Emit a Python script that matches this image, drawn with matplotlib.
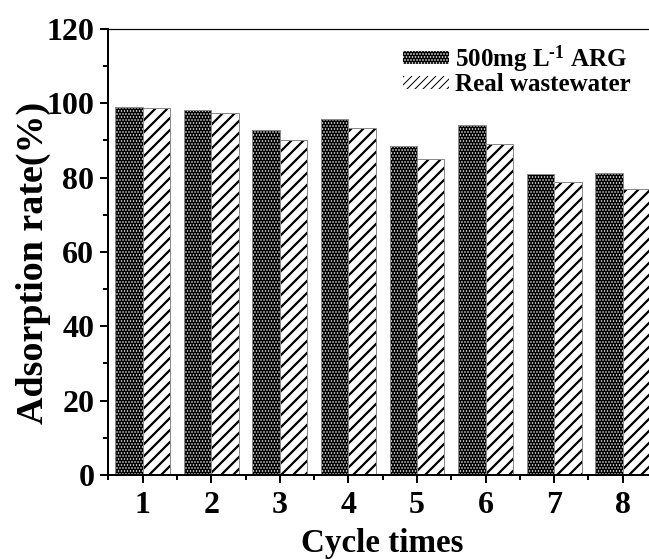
import numpy as np
import matplotlib
matplotlib.use("Agg")
import matplotlib.pyplot as plt
from matplotlib.patches import Patch
from matplotlib.ticker import MultipleLocator

# valori procitani sa slike
cycles = [1, 2, 3, 4, 5, 6, 7, 8]
arg_500 = [99.0, 98.2, 92.8, 95.9, 88.6, 94.2, 81.1, 81.2]
real_ww = [98.8, 97.5, 90.1, 93.4, 85.1, 89.1, 78.9, 76.9]
labels = ["500mg L$^{\\text{-1}}$ ARG", "Real wastewater"]

plt.rcParams['font.family'] = ['Liberation Serif', 'DejaVu Serif']
plt.rcParams['font.weight'] = 'bold'
plt.rcParams['mathtext.fontset'] = 'custom'
plt.rcParams['mathtext.rm'] = 'Liberation Serif:bold'
plt.rcParams['mathtext.bf'] = 'Liberation Serif:bold'
plt.rcParams['mathtext.default'] = 'bf'

DPI = 72
fig = plt.figure(figsize=(649 / DPI, 559 / DPI), dpi=DPI)
ax = fig.add_axes([0.1669, 0.1503, 0.8455, 0.7979])

x = np.array(cycles)
w = 0.4
edge = "#8a8a8a"


def set_hlw(bars, lw):
    for b in bars:
        try:
            b.set_hatch_linewidth(lw)
        except AttributeError:
            pass


# tamni stubovi sa belim tackama
with plt.rc_context({'hatch.linewidth': 0.9}):
    b1 = ax.bar(x - w / 2, arg_500, w, color="black", edgecolor="white",
                hatch="....", linewidth=0)
set_hlw(b1, 0.9)
ax.bar(x - w / 2, arg_500, w, fill=False, edgecolor=edge, linewidth=1)

# srafirani stubovi
with plt.rc_context({'hatch.linewidth': 2.2}):
    b2 = ax.bar(x + w / 2, real_ww, w, color="white", edgecolor="black",
                hatch="//", linewidth=0)
set_hlw(b2, 2.2)
ax.bar(x + w / 2, real_ww, w, fill=False, edgecolor=edge, linewidth=1)

ax.set_xlim(0.5, 8.5)
ax.set_ylim(0, 120)
ax.xaxis.set_major_locator(MultipleLocator(1))
ax.xaxis.set_minor_locator(MultipleLocator(0.5))
ax.yaxis.set_major_locator(MultipleLocator(20))
ax.yaxis.set_minor_locator(MultipleLocator(10))

for s in ax.spines.values():
    s.set_linewidth(2)
ax.spines['top'].set_linewidth(1.2)

ax.tick_params(which="major", direction="out", length=8, width=2,
               labelsize=32, pad=6)
ax.tick_params(axis="x", which="major", pad=8)
ax.tick_params(which="minor", direction="out", length=5, width=2)
ax.tick_params(axis="x", which="both", top=False)
ax.tick_params(axis="y", which="both", right=False)

ax.set_xlabel("Cycle times", fontsize=33, fontweight="bold", labelpad=8)
ax.set_ylabel("Adsorption rate(%)", fontsize=38, fontweight="bold")
ax.yaxis.set_label_coords(-0.1044, 0.475)

h1 = Patch(facecolor="black", edgecolor="white", hatch="....", linewidth=0)
h2 = Patch(facecolor="white", edgecolor="black", hatch="///", linewidth=0)
leg = ax.legend([h1, h2], labels, loc="upper left",
                bbox_to_anchor=(0.537, 0.968), frameon=False,
                prop={'family': 'Liberation Serif', 'weight': 'bold', 'size': 25},
                handlelength=1.85, handleheight=0.42, handletextpad=0.25,
                labelspacing=-0.05, borderpad=0, borderaxespad=0)

fig.savefig("out.png", dpi=DPI)
